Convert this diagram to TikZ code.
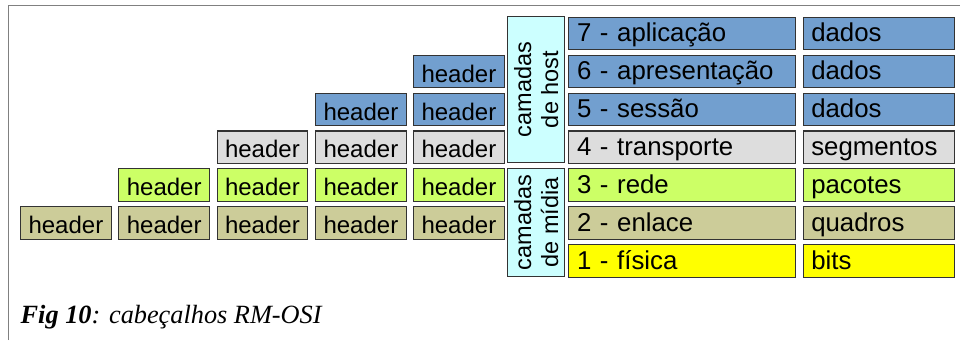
\documentclass[tikz,border=0pt]{standalone}
\usepackage{fontspec}
\setmainfont{Liberation Sans}
\newfontfamily\capfont{Liberation Serif}
\definecolor{cblue}{HTML}{729FCF}
\definecolor{cgray}{HTML}{DDDDDD}
\definecolor{cgreen}{HTML}{CCFF66}
\definecolor{ctan}{HTML}{CCCC99}
\definecolor{cyel}{HTML}{FFFF00}
\definecolor{ccyan}{HTML}{CCFFFF}
\definecolor{cframe}{HTML}{808080}
\definecolor{cedge}{HTML}{333333}
\tikzset{
  basebox/.style={draw=cedge, line width=1.1pt, rectangle, anchor=north west, inner ysep=0pt},
  hdr/.style={basebox, text height=27pt, text depth=5.5pt, font=\fontsize{24pt}{26pt}\selectfont,
    minimum width=90.7pt, inner xsep=0pt, text width=90.7pt, align=center},
  bigbox/.style={basebox, text height=24.7pt, text depth=7.8pt, font=\fontsize{25.8pt}{28pt}\selectfont},
  layerbox/.style={bigbox, inner xsep=8.5pt, text width=210pt, align=left},
  databox/.style={bigbox, inner xsep=8pt, text width=135.3pt, align=left},
  groupbox/.style={draw=cedge, line width=1.1pt, fill=ccyan, rectangle, inner sep=0pt},
  grouptext/.style={rotate=90, align=center, font=\fontsize{23.5pt}{27pt}\selectfont, inner sep=0pt}
}
\begin{document}
\begin{tikzpicture}[x=1pt,y=-1pt]
\useasboundingbox (0,0) rectangle (960,340);
\draw[cframe, line width=1.6pt] (8.5,340) -- (8.5,5.5) -- (960,5.5);
% row 7
\node[layerbox, fill=cblue] (l7) at (568,16.7) {7 - aplicação};
\node[databox, fill=cblue] (d7) at (802.7,16.7) {dados};
% row 6
\node[hdr, fill=cblue] (h64) at (413,54.6) {header};
\node[layerbox, fill=cblue] (l6) at (568,54.6) {6 - apresentação};
\node[databox, fill=cblue] (d6) at (802.7,54.6) {dados};
% row 5
\node[hdr, fill=cblue] (h53) at (315,92.5) {header};
\node[hdr, fill=cblue] (h54) at (413,92.5) {header};
\node[layerbox, fill=cblue] (l5) at (568,92.5) {5 - sessão};
\node[databox, fill=cblue] (d5) at (802.7,92.5) {dados};
% row 4
\node[hdr, fill=cgray] (h42) at (216.5,130.4) {header};
\node[hdr, fill=cgray] (h43) at (315,130.4) {header};
\node[hdr, fill=cgray] (h44) at (413,130.4) {header};
\node[layerbox, fill=cgray] (l4) at (568,130.4) {4 - transporte};
\node[databox, fill=cgray] (d4) at (802.7,130.4) {segmentos};
% row 3
\node[hdr, fill=cgreen] (h31) at (118.3,168.3) {header};
\node[hdr, fill=cgreen] (h32) at (216.5,168.3) {header};
\node[hdr, fill=cgreen] (h33) at (315,168.3) {header};
\node[hdr, fill=cgreen] (h34) at (413,168.3) {header};
\node[layerbox, fill=cgreen] (l3) at (568,168.3) {3 - rede};
\node[databox, fill=cgreen] (d3) at (802.7,168.3) {pacotes};
% row 2
\node[hdr, fill=ctan] (h20) at (20,206.2) {header};
\node[hdr, fill=ctan] (h21) at (118.3,206.2) {header};
\node[hdr, fill=ctan] (h22) at (216.5,206.2) {header};
\node[hdr, fill=ctan] (h23) at (315,206.2) {header};
\node[hdr, fill=ctan] (h24) at (413,206.2) {header};
\node[layerbox, fill=ctan] (l2) at (568,206.2) {2 - enlace};
\node[databox, fill=ctan] (d2) at (802.7,206.2) {quadros};
% row 1
\node[layerbox, fill=cyel] (l1) at (568,244.1) {1 - física};
\node[databox, fill=cyel] (d1) at (802.7,244.1) {bits};
% group boxes
\draw[groupbox] (507.7,16.7) rectangle (564.5,162.4);
\node[grouptext] (host) at (536.1,89.5) {camadas\\de host};
\draw[groupbox] (507.7,168.3) rectangle (564.5,276.6);
\node[grouptext] (midia) at (536.1,222.5) {camadas\\de mídia};
% caption
\node[anchor=base west, inner sep=0pt, font=\capfont\fontsize{26.3pt}{28pt}\selectfont\itshape] (cap) at (20.5,323.5) {\textbf{Fig 10}: cabeçalhos RM-OSI};
\end{tikzpicture}
\end{document}
